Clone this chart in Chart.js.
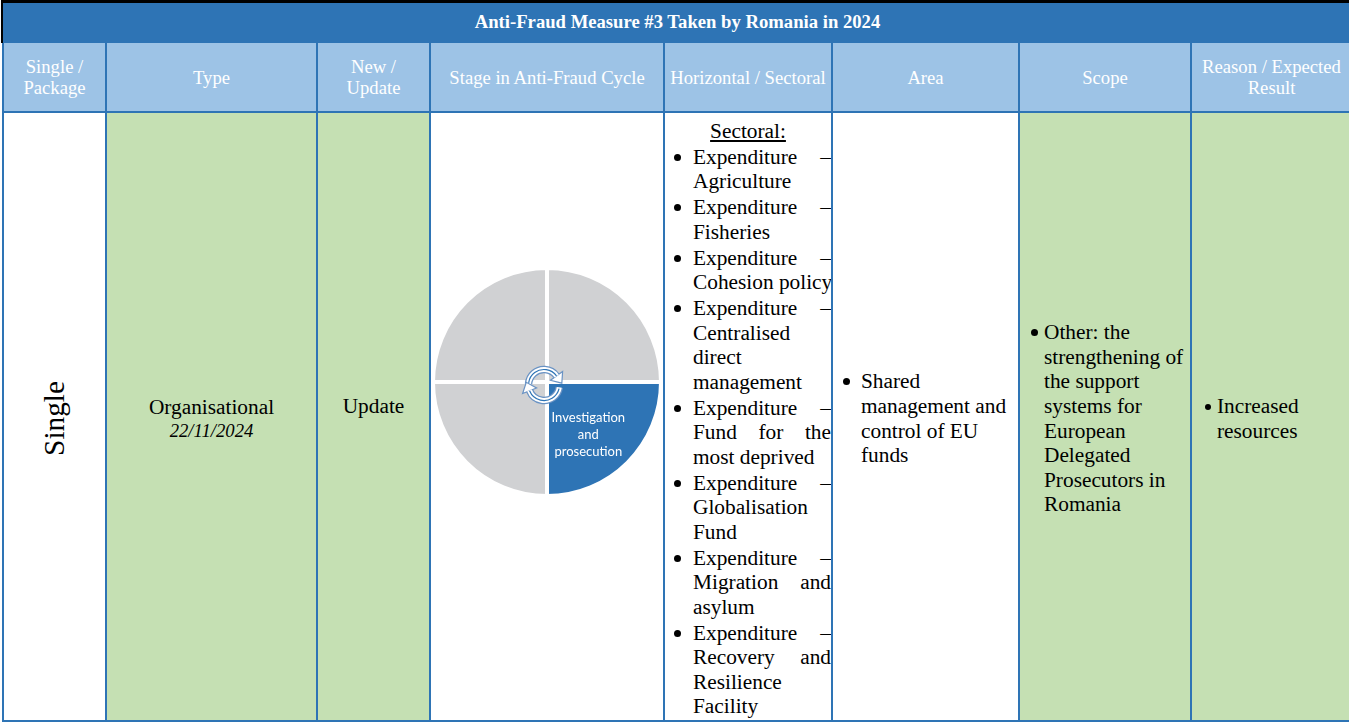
<!DOCTYPE html>
<html>
<head>
<meta charset="utf-8">
<script src="https://cdn.jsdelivr.net/npm/chart.js"></script>
<style>
html, body { margin: 0; padding: 0; background: #fff; }
body { width: 1349px; height: 722px; overflow: hidden; position: relative;
       font-family: "Liberation Serif", "Times New Roman", serif; }
#grid { position: absolute; left: 2px; top: 0; display: grid;
        grid-template-columns: 101px 209px 111px 232px 166px 185px 170px 159px;
        grid-template-rows: 38px 68px 607px; gap: 2px;
        padding: 0 2px 2px 2px; border-top: 3px solid #000; background: #2E74B5; }
#grid > div { display: flex; align-items: center; justify-content: center; text-align: center; overflow: hidden; }
#blk { position: absolute; left: 1px; top: 0; width: 2px; height: 43px; background: #000; }
.title { grid-column: 1 / -1; background: #2E74B5; color: #fff; font-weight: bold; font-size: 18.67px; }
.hd { background: #9DC3E6; color: #fff; font-size: 18.67px; line-height: 21px; }
.cell { background: #fff; font-size: 21.33px; line-height: 24.6px; color: #000; padding-top: 4px; box-sizing: border-box; }
.green { background: #C5E0B3; }
.single { writing-mode: vertical-rl; transform: rotate(180deg); font-size: 29.3px; }
.date { font-style: italic; font-size: 18.67px; line-height: 22px; display: block; }
.sect { width: 166px; text-align: left; line-height: 24.5px; white-space: nowrap; }
.sect .cap { text-align: center; text-decoration: underline; text-underline-offset: 2px; }
.sect .it { position: relative; padding-left: 28px; margin-top: 1.5px; }
.sect .it::before { content: ''; position: absolute; left: 8.5px; top: 9px; width: 7px; height: 7px; border-radius: 50%; background: #000; }
.j { text-align: justify; text-align-last: justify; }
.dot { position: absolute; width: 7px; height: 7px; border-radius: 50%; background: #000; top: 9px; }
.lst { position: relative; text-align: left; white-space: nowrap; }
</style>
</head>
<body>
<div id="grid">
  <div class="title">Anti-Fraud Measure #3 Taken by Romania in 2024</div>

  <div class="hd">Single /<br>Package</div>
  <div class="hd">Type</div>
  <div class="hd">New /<br>Update</div>
  <div class="hd">Stage in Anti-Fraud Cycle</div>
  <div class="hd">Horizontal / Sectoral</div>
  <div class="hd">Area</div>
  <div class="hd">Scope</div>
  <div class="hd">Reason / Expected<br>Result</div>

  <div class="cell"><span class="single">Single</span></div>
  <div class="cell green"><div>Organisational<span class="date">22/11/2024</span></div></div>
  <div class="cell green" style="padding-bottom:24px">Update</div>
  <div class="cell" style="align-items:flex-start;padding-top:0"><div style="margin-top:153px;width:232px;height:232px"><canvas id="cycle" width="232" height="232"></canvas></div></div>
  <div class="cell">
    <div class="sect">
      <div class="cap">Sectoral:</div>
      <div class="it"><div class="j">Expenditure –</div><div>Agriculture</div></div>
      <div class="it"><div class="j">Expenditure –</div><div>Fisheries</div></div>
      <div class="it"><div class="j">Expenditure –</div><div>Cohesion policy</div></div>
      <div class="it"><div class="j">Expenditure –</div><div>Centralised</div><div>direct</div><div>management</div></div>
      <div class="it"><div class="j">Expenditure –</div><div class="j">Fund for the</div><div>most deprived</div></div>
      <div class="it"><div class="j">Expenditure –</div><div>Globalisation</div><div>Fund</div></div>
      <div class="it"><div class="j">Expenditure –</div><div class="j">Migration and</div><div>asylum</div></div>
      <div class="it"><div class="j">Expenditure –</div><div class="j">Recovery and</div><div>Resilience</div><div>Facility</div></div>
    </div>
  </div>
  <div class="cell" style="justify-content:flex-start">
    <div class="lst" style="padding-left:28px"><span class="dot" style="left:9.5px"></span>Shared<br>management and<br>control of EU<br>funds</div>
  </div>
  <div class="cell green" style="justify-content:flex-start">
    <div class="lst" style="padding-left:24px"><span class="dot" style="left:10.5px"></span>Other: the<br>strengthening of<br>the support<br>systems for<br>European<br>Delegated<br>Prosecutors in<br>Romania</div>
  </div>
  <div class="cell green" style="justify-content:flex-start">
    <div class="lst" style="padding-left:25px"><span class="dot" style="left:13px;top:10px;width:6px;height:6px"></span>Increased<br>resources</div>
  </div>
</div>
<div id="blk"></div>

<script>
// anti-fraud cycle, clockwise from 12 o'clock
const stages = ['Detection', 'Investigation and prosecution', 'Recovery and sanctions', 'Prevention'];
const stageShare = [1, 1, 1, 1];
const activeStage = 'Investigation and prosecution';

const activeIdx = stages.indexOf(activeStage);

function curvedArrow(ctx, cx, cy, r, a0, a1) {
  const ex = cx + Math.cos(a1) * r, ey = cy + Math.sin(a1) * r;
  const tx = -Math.sin(a1), ty = Math.cos(a1);
  const nx = Math.cos(a1), ny = Math.sin(a1);
  ctx.lineCap = 'butt';
  ctx.beginPath(); ctx.arc(cx, cy, r, a0, a1);
  ctx.strokeStyle = '#6A93C4'; ctx.lineWidth = 7.5; ctx.stroke();
  ctx.beginPath();
  ctx.moveTo(ex + nx * 7.5, ey + ny * 7.5);
  ctx.lineTo(ex + tx * 9, ey + ty * 9);
  ctx.lineTo(ex - nx * 7.5, ey - ny * 7.5);
  ctx.closePath();
  ctx.fillStyle = '#fff'; ctx.fill();
  ctx.strokeStyle = '#6A93C4'; ctx.lineWidth = 1.2; ctx.stroke();
  ctx.beginPath(); ctx.arc(cx, cy, r, a0, a1 + 0.02);
  ctx.strokeStyle = '#fff'; ctx.lineWidth = 5; ctx.stroke();
  ctx.beginPath(); ctx.arc(cx, cy, r, a0 + 0.08, a1);
  ctx.strokeStyle = '#2E74B5'; ctx.lineWidth = 1.2; ctx.stroke();
}

const cycleDecor = {
  id: 'cycleDecor',
  afterDatasetsDraw(chart) {
    const ctx = chart.ctx;
    const arc = chart.getDatasetMeta(0).data[activeIdx];
    const p = arc.getCenterPoint();
    ctx.save();
    ctx.fillStyle = '#fff';
    ctx.font = '13px Lato, "Noto Sans", sans-serif';
    ctx.textAlign = 'center';
    ctx.textBaseline = 'middle';
    stages[activeIdx].split(' ').forEach(function (w, i) {
      ctx.fillText(w, p.x + 1, p.y - 4 + i * 17);
    });
    curvedArrow(ctx, arc.x - 3, arc.y + 3, 15.5, Math.PI * 1.02, Math.PI * 1.8);
    curvedArrow(ctx, arc.x - 3, arc.y + 3, 15.5, Math.PI * 0.05, Math.PI * 0.88);
    ctx.restore();
  }
};

new Chart(document.getElementById('cycle'), {
  type: 'pie',
  data: {
    labels: stages,
    datasets: [{
      data: stageShare,
      backgroundColor: stages.map(function (s, i) { return i === activeIdx ? '#2E74B5' : '#D0D1D3'; }),
      borderColor: '#fff',
      borderWidth: 4
    }]
  },
  options: {
    responsive: false,
    animation: false,
    layout: { padding: 0 },
    plugins: { legend: { display: false }, tooltip: { enabled: false } }
  },
  plugins: [cycleDecor]
});
</script>
</body>
</html>
